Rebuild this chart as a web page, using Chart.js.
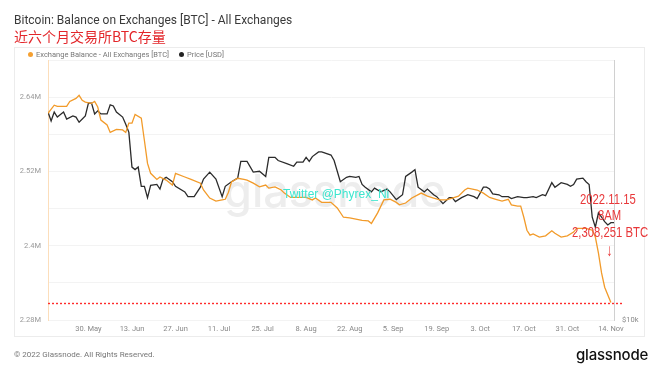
<!DOCTYPE html>
<html lang="zh">
<head>
    <meta charset="UTF-8">
    <title>Bitcoin: Balance on Exchanges</title>
    <script src="https://cdn.jsdelivr.net/npm/chart.js"></script>
    <style>
        html, body { margin: 0; padding: 0; background: #fff; }
        body { width: 660px; height: 372px; position: relative; overflow: hidden; font-family: Roboto, "Noto Sans", sans-serif; }
        #card {
            position: absolute; left: 14px; top: 47px; width: 631px; height: 290px;
            border: 1px solid #ececec; box-sizing: border-box;
        }
        canvas { position: absolute; left: 0; top: 0; }
        .abs { position: absolute; white-space: nowrap; }
        #title { left: 14px; top: 13px; font-size: 12px; font-weight: 400; color: #3a3a3a; }
        #subtitle { left: 14px; top: 28px; font-size: 14px; line-height: 16px; color: #e3262a; font-family: "Noto Sans CJK SC", sans-serif; }
        .legend { top: 50px; font-size: 7.5px; color: #777; }
        .dot { display: inline-block; width: 5px; height: 5px; border-radius: 50%; margin-right: 3px; vertical-align: 0px; }
        #twitter { left: 283px; top: 187px; font-size: 12px; color: #3ee6cf; font-family: "Liberation Sans", sans-serif; }
        .note { color: #e8383a; font-family: "Liberation Sans", sans-serif; font-size: 14.5px; line-height: 14px; transform: scaleX(0.78); transform-origin: left top; }
        #footer { left: 14px; top: 350px; font-size: 8px; color: #777; }
        #logo { left: 576px; top: 345px; font-size: 15px; font-weight: 500; color: #111; font-family: Inter, sans-serif; letter-spacing: -0.2px; }
    </style>
</head>
<body>
    <div id="card"></div>
    <canvas id="chart" width="660" height="372"></canvas>

    <div id="title" class="abs">Bitcoin: Balance on Exchanges [BTC] - All Exchanges</div>
    <div id="subtitle" class="abs">近六个月交易所BTC存量</div>
    <div class="abs legend" style="left:28px"><span class="dot" style="background:#f5a031"></span>Exchange Balance - All Exchanges [BTC]</div>
    <div class="abs legend" style="left:179px"><span class="dot" style="background:#222"></span>Price [USD]</div>
    <div id="twitter" class="abs">Twitter @Phyrex_Ni</div>
    <div class="abs note" style="left:580px; top:192px">2022.11.15</div>
    <div class="abs note" style="left:598px; top:208px">8AM</div>
    <div class="abs note" style="left:572px; top:225px">2,308,251 BTC</div>
    <div class="abs note" style="left:606px; top:242px; font-size:17px; line-height:17px">↓</div>
    <div id="footer" class="abs">© 2022 Glassnode. All Rights Reserved.</div>
    <div id="logo" class="abs">glassnode</div>

    <script>
        // days counted from 17 May 2022
        const balanceDays = [0, 2, 3, 6, 7, 9, 10, 11, 12, 14, 15, 16, 17, 19, 20, 22, 24, 25, 26, 27, 28, 30, 31, 32, 33, 35, 36, 38, 40, 41,
            44, 46, 49, 50, 52, 54, 56, 57, 58, 59, 61, 63, 64, 66, 68, 70, 71, 73, 75, 76, 78, 80, 83, 85, 86, 88, 91, 93, 95, 97,
            99, 101, 103, 104, 106, 108, 110, 112, 113, 115, 117, 120, 122, 124, 126, 128, 130, 132, 134, 135, 138, 140, 142, 144, 146, 148, 149, 151, 152, 153,
            154, 155, 156, 158, 160, 162, 163, 165, 167, 169, 170, 171, 173, 175, 176, 177, 178, 179, 181];
        // exchange balance, millions of BTC
        const balanceValues = [2.614, 2.627, 2.625, 2.625, 2.633, 2.638, 2.643, 2.635, 2.632, 2.630, 2.633, 2.624, 2.603, 2.595, 2.583, 2.588, 2.587, 2.583, 2.598, 2.598, 2.612, 2.606, 2.570, 2.533, 2.517, 2.507, 2.511, 2.506, 2.498, 2.517,
            2.511, 2.507, 2.501, 2.490, 2.477, 2.472, 2.474, 2.475, 2.486, 2.503, 2.509, 2.507, 2.506, 2.501, 2.495, 2.498, 2.493, 2.495, 2.490, 2.485, 2.478, 2.478, 2.478, 2.474, 2.477, 2.470, 2.470, 2.461, 2.446, 2.445,
            2.443, 2.441, 2.440, 2.436, 2.453, 2.474, 2.475, 2.470, 2.466, 2.469, 2.477, 2.485, 2.480, 2.477, 2.474, 2.474, 2.477, 2.480, 2.490, 2.493, 2.490, 2.485, 2.478, 2.475, 2.472, 2.475, 2.466, 2.464, 2.464, 2.446,
            2.425, 2.417, 2.419, 2.414, 2.416, 2.424, 2.420, 2.414, 2.416, 2.422, 2.428, 2.428, 2.428, 2.425, 2.414, 2.388, 2.356, 2.333, 2.308251];

        const priceDays = [0, 1, 2, 3, 5, 6, 8, 9, 10, 12, 13, 14, 15, 16, 17, 19, 20, 21, 22, 24, 25, 26, 27, 28, 29, 30, 31, 32, 33, 35,
            36, 37, 38, 40, 41, 44, 45, 47, 49, 50, 52, 54, 56, 57, 59, 61, 62, 64, 66, 68, 70, 71, 73, 74, 77, 79, 80, 82, 83, 84,
            85, 87, 88, 91, 92, 94, 96, 97, 99, 100, 101, 102, 104, 105, 107, 109, 110, 112, 114, 115, 117, 118, 119, 121, 122, 124, 125, 127, 129, 130,
            131, 133, 135, 137, 138, 140, 141, 142, 143, 145, 146, 148, 149, 151, 153, 154, 156, 157, 159, 160, 162, 163, 165, 167, 168, 169, 170, 172, 173, 174,
            175, 176, 177, 178, 179, 180, 181, 182];
        // BTC price, USD
        const priceValues = [30300, 28900, 30300, 29500, 30300, 29200, 29700, 29500, 28700, 29700, 31800, 31800, 30000, 30500, 30000, 30000, 31500, 31300, 30300, 29500, 28400, 27200, 22600, 22300, 22600, 20400, 20400, 19200, 20500, 20600,
            20100, 21200, 21400, 20900, 20400, 19800, 19300, 19300, 20300, 21200, 22000, 21200, 19300, 20400, 20900, 21300, 23300, 23300, 22000, 22100, 21500, 23800, 23800, 23400, 23000, 22700, 23200, 23200, 23800, 23300,
            23900, 24500, 24500, 24100, 23400, 20900, 21400, 21500, 21400, 21500, 20600, 20300, 19800, 20200, 19800, 20100, 19800, 19000, 19500, 21500, 22000, 22300, 20300, 19800, 20100, 19500, 19300, 18600, 19200, 19200,
            18800, 19200, 19500, 19300, 19100, 20300, 20300, 20100, 19600, 19500, 19300, 19300, 19100, 19300, 19200, 19200, 19300, 19200, 19500, 19400, 20800, 20300, 20800, 20600, 20400, 20600, 21200, 21300, 20900, 20600,
            17300, 16400, 17700, 17300, 16900, 16600, 16800, 16800];

        const tickDays = [13, 27, 41, 55, 69, 83, 97, 111, 125, 139, 153, 167, 181];
        const tickLabels = ['30. May', '13. Jun', '27. Jun', '11. Jul', '25. Jul', '8. Aug', '22. Aug', '5. Sep', '19. Sep', '3. Oct', '17. Oct', '31. Oct', '14. Nov'];

        const latestBalance = 2.308251;

        const axisFont = { family: 'Roboto', size: 7.5 };

        const extras = {
            id: 'extras',
            beforeDatasetsDraw(chart) {
                const ctx = chart.ctx;
                ctx.save();
                ctx.font = '500 45px Inter, Lato, sans-serif';
                ctx.fillStyle = '#ededed';
                ctx.textBaseline = 'alphabetic';
                ctx.fillText('glassnode', 224, 207);
                ctx.restore();
            },
            afterDatasetsDraw(chart) {
                const ctx = chart.ctx;
                const area = chart.chartArea;
                const y = Math.round(chart.scales.y.getPixelForValue(latestBalance)) + 0.5;
                ctx.save();
                ctx.strokeStyle = '#ff2b2b';
                ctx.lineWidth = 1.4;
                ctx.setLineDash([2, 2]);
                ctx.beginPath();
                ctx.moveTo(area.left, y);
                ctx.lineTo(area.right + 9, y);
                ctx.stroke();
                ctx.restore();
            }
        };

        new Chart(document.getElementById('chart'), {
            type: 'line',
            data: {
                datasets: [{
                    label: 'Exchange Balance - All Exchanges [BTC]',
                    data: balanceDays.map((d, i) => ({ x: d, y: balanceValues[i] })),
                    borderColor: '#f29b2a',
                    borderWidth: 1.3,
                    pointRadius: 0,
                    yAxisID: 'y'
                }, {
                    label: 'Price [USD]',
                    data: priceDays.map((d, i) => ({ x: d, y: priceValues[i] })),
                    borderColor: '#2b2b2b',
                    borderWidth: 1.3,
                    pointRadius: 0,
                    yAxisID: 'y1'
                }]
            },
            options: {
                responsive: false,
                animation: false,
                devicePixelRatio: 1,
                layout: { padding: { left: 14, right: 0, top: 60, bottom: 34 } },
                plugins: { legend: { display: false }, tooltip: { enabled: false } },
                scales: {
                    x: {
                        type: 'linear',
                        min: 0,
                        max: 182,
                        afterBuildTicks: axis => { axis.ticks = tickDays.map(v => ({ value: v })); },
                        afterFit: axis => { axis.height = 18; },
                        ticks: {
                            autoSkip: false,
                            maxRotation: 0,
                            padding: 5,
                            color: '#888',
                            font: axisFont,
                            callback: v => tickLabels[tickDays.indexOf(v)]
                        },
                        grid: { display: false, drawTicks: false },
                        border: { display: false }
                    },
                    y: {
                        position: 'left',
                        min: 2.28,
                        max: 2.70,
                        afterFit: axis => { axis.width = 34; },
                        ticks: {
                            stepSize: 0.06,
                            padding: 7,
                            color: '#999',
                            font: axisFont,
                            callback: v => {
                                const k = Math.round((v - 2.28) * 100 / 6);
                                return (k % 2 === 0 && k < 7) ? parseFloat(v.toFixed(2)) + 'M' : '';
                            }
                        },
                        grid: { color: '#f3f3f3', drawTicks: false },
                        border: { color: 'rgba(245,160,60,0.35)' }
                    },
                    y1: {
                        type: 'logarithmic',
                        position: 'right',
                        min: 10000,
                        max: 40000,
                        afterBuildTicks: axis => { axis.ticks = [{ value: 10000 }]; },
                        afterFit: axis => { axis.width = 46; },
                        ticks: {
                            padding: 8,
                            color: '#888',
                            font: axisFont,
                            callback: () => '$10k'
                        },
                        grid: { drawOnChartArea: false, drawTicks: false },
                        border: { color: '#d0d0d0' }
                    }
                }
            },
            plugins: [extras]
        });
    </script>
</body>
</html>
